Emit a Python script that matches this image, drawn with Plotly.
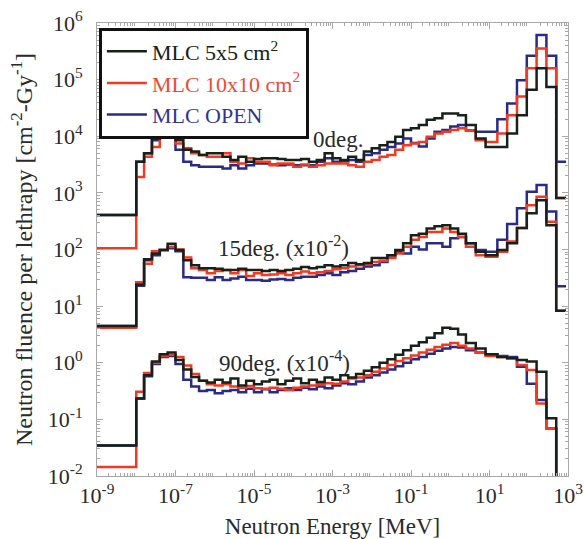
import plotly.graph_objects as go

# ---------------- data ----------------
# bin edges, log10(E / MeV)
bin_edges_log10 = [-9.0, -8.0, -7.8, -7.6, -7.4, -7.2, -7.0, -6.8, -6.6, -6.4, -6.2,
                   -6.0, -5.8, -5.6, -5.4, -5.2, -5.0, -4.8, -4.6, -4.4, -4.2,
                   -4.0, -3.8, -3.6, -3.4, -3.2, -3.0, -2.8, -2.6, -2.4, -2.2,
                   -2.0, -1.8, -1.6, -1.4, -1.2, -1.0, -0.8, -0.6, -0.4, -0.2,
                   0.0, 0.2, 0.4, 0.65, 0.9, 1.2, 1.45, 1.7, 1.95, 2.2, 2.45, 2.7, 2.95]

# fluence per bin, log10 values (None = zero)
mlc5_0deg = [2.61,
             3.55, 3.70, 3.96, 4.10, 4.10, 3.93, 3.76, 3.73, 3.67, 3.70,
             3.70, 3.64, 3.58, 3.64, 3.55, 3.60, 3.61, 3.61, 3.60, 3.58,
             3.58, 3.60, 3.55, 3.58, 3.70, 3.61, 3.58, 3.64, 3.58, 3.73,
             3.79, 3.84, 3.90, 3.99, 4.11, 4.14, 4.20, 4.29, 4.32, 4.40,
             4.40, 4.37,
             4.20, 3.96, 3.81, 3.81, 4.05, 4.37, 4.82, 5.20, 4.87, 2.91]
mlc10_0deg = [2.02,
              3.28, 3.64, 3.81, 4.02, 4.02, 3.87, 3.79, 3.70, 3.67, 3.64,
              3.64, 3.70, 3.55, 3.52, 3.61, 3.55, 3.55, 3.49, 3.52, 3.52,
              3.46, 3.50, 3.46, 3.49, 3.52, 3.52, 3.52, 3.49, 3.46, 3.55,
              3.58, 3.64, 3.67, 3.76, 3.84, 3.87, 3.90, 3.99, 4.05, 4.08,
              4.11, 4.14,
              4.10, 3.93, 3.90, 4.05, 4.37, 4.70, 5.20, 5.55, 5.20, 2.91]
mlcopen_0deg = [2.61,
                3.55, 3.70, 3.93, 4.05, 3.99, 3.76, 3.55, 3.49, 3.46, 3.46,
                3.46, 3.43, 3.49, 3.43, 3.49, 3.52, 3.52, 3.50, 3.49, 3.50,
                3.49, 3.49, 3.49, 3.55, 3.61, 3.55, 3.56, 3.58, 3.55, 3.67,
                3.70, 3.76, 3.81, 3.87, 3.96, 3.88, 3.82, 3.96, 4.08, 4.11,
                4.17, 4.20,
                4.10, 4.08, 4.08, 4.30, 4.58, 4.99, 5.42, 5.79, 5.42, 3.55]

mlc5_15deg = [0.65,
              1.38, 1.83, 1.93, 1.99, 2.10, 1.99, 1.81, 1.72, 1.67, 1.67,
              1.66, 1.64, 1.64, 1.66, 1.64, 1.64, 1.62, 1.64, 1.62, 1.64,
              1.66, 1.69, 1.67, 1.69, 1.72, 1.70, 1.72, 1.76, 1.74, 1.76,
              1.85, 1.85, 1.90, 1.99, 2.11, 2.25, 2.28, 2.37, 2.41, 2.43,
              2.37, 2.28,
              2.11, 1.96, 1.90, 1.99, 2.11, 2.38, 2.64, 2.87, 2.43, 0.92]
mlc10_15deg = [0.62,
               1.42, 1.75, 1.97, 1.99, 2.05, 2.00, 1.86, 1.67, 1.64, 1.58,
               1.62, 1.64, 1.58, 1.64, 1.53, 1.58, 1.55, 1.56, 1.58, 1.55,
               1.58, 1.61, 1.58, 1.60, 1.62, 1.65, 1.67, 1.70, 1.72, 1.74,
               1.78, 1.80, 1.85, 1.93, 2.05, 2.17, 2.22, 2.31, 2.31, 2.37,
               2.31, 2.22,
               2.05, 1.90, 1.87, 1.96, 2.14, 2.38, 2.78, 2.93, 2.49, 0.92]
mlcopen_15deg = [0.65,
                 1.36, 1.81, 1.90, 1.99, 2.02, 1.97, 1.51, 1.50, 1.50, 1.46,
                 1.51, 1.46, 1.49, 1.52, 1.46, 1.46, 1.45, 1.47, 1.48, 1.46,
                 1.50, 1.52, 1.52, 1.55, 1.58, 1.55, 1.60, 1.62, 1.66, 1.70,
                 1.72, 1.78, 1.90, 1.96, 1.93, 2.05, 2.00, 2.11, 2.11, 2.05,
                 2.20, 2.22,
                 2.11, 1.99, 1.96, 2.17, 2.45, 2.73, 3.02, 3.14, 2.67, 1.35]

mlc5_90deg = [-1.46,
              -0.63, -0.22, 0.02, 0.15, 0.18, 0.05, -0.12, -0.25, -0.32, -0.35,
              -0.30, -0.35, -0.28, -0.40, -0.32, -0.38, -0.33, -0.30, -0.38, -0.32,
              -0.28, -0.36, -0.30, -0.34, -0.26, -0.30, -0.22, -0.26, -0.20, -0.14,
              -0.08, 0.00, 0.06, 0.14, 0.22, 0.30, 0.36, 0.44, 0.52, 0.62,
              0.60, 0.50,
              0.35, 0.25, 0.15, 0.10, 0.08, 0.05, 0.02, -0.16, -0.98, None]
mlc10_90deg = [-1.84,
               -0.51, -0.18, 0.00, 0.12, 0.14, 0.10, -0.05, -0.20, -0.32, -0.38,
               -0.40, -0.38, -0.42, -0.44, -0.41, -0.45, -0.46, -0.44, -0.46, -0.48,
               -0.44, -0.42, -0.40, -0.38, -0.36, -0.37, -0.33, -0.28, -0.26, -0.22,
               -0.16, -0.10, -0.04, 0.03, 0.08, 0.13, 0.18, 0.23, 0.28, 0.32,
               0.35, 0.30,
               0.25, 0.18, 0.12, 0.10, 0.08, -0.04, -0.13, -0.72, -1.16, None]
mlcopen_90deg = [-1.46,
                 -0.63, -0.24, -0.02, 0.10, 0.12, -0.02, -0.30, -0.42, -0.50, -0.48,
                 -0.54, -0.50, -0.48, -0.52, -0.46, -0.52, -0.47, -0.52, -0.48, -0.45,
                 -0.48, -0.44, -0.47, -0.42, -0.45, -0.40, -0.36, -0.38, -0.33, -0.26,
                 -0.22, -0.17, -0.12, -0.06, 0.00, 0.06, 0.10, 0.16, 0.21, 0.25,
                 0.28, 0.27,
                 0.22, 0.18, 0.15, 0.12, 0.10, -0.07, -0.37, -0.66, -1.16, None]

series_names = ["MLC 5x5 cm<sup>2</sup>", "MLC 10x10 cm<sup>2</sup>", "MLC OPEN"]
x_tick_exponents = [-9, -7, -5, -3, -1, 1, 3]
x_tick_labels = ["10<sup>-9</sup>", "10<sup>-7</sup>", "10<sup>-5</sup>", "10<sup>-3</sup>",
                 "10<sup>-1</sup>", "10<sup>1</sup>", "10<sup>3</sup>"]
y_tick_exponents = [-2, -1, 0, 1, 2, 3, 4, 5, 6]
y_tick_labels = ["10<sup>-2</sup>", "10<sup>-1</sup>", "10<sup>0</sup>", "10<sup>1</sup>",
                 "10<sup>2</sup>", "10<sup>3</sup>", "10<sup>4</sup>", "10<sup>5</sup>",
                 "10<sup>6</sup>"]
angle_labels = ["0deg.", "15deg. (x10<sup>-2</sup>)", "90deg. (x10<sup>-4</sup>)"]

# ---------------- styling ----------------
SERIF = "Liberation Serif, Times New Roman, serif"
TXT = "#2a2a2a"
COL_BLACK = "#17211a"
COL_RED = "#f23a22"
COL_BLUE = "#2a2a88"
LEG_RED = "#ef4a36"
LEG_BLUE = "#34348f"
AXC = "#a8a8a8"
ZERO_FLOOR = 1e-8   # zero fluence -> drawn below the axis

edges = [10 ** e for e in bin_edges_log10]


def step_y(vals):
    ys = [10 ** v if v is not None else ZERO_FLOOR for v in vals]
    return ys + [ys[-1]]


fig = go.Figure()

groups = [
    (series_names[2], COL_BLUE, LEG_BLUE, [mlcopen_0deg, mlcopen_15deg, mlcopen_90deg], 3),
    (series_names[1], COL_RED, LEG_RED, [mlc10_0deg, mlc10_15deg, mlc10_90deg], 2),
    (series_names[0], COL_BLACK, COL_BLACK, [mlc5_0deg, mlc5_15deg, mlc5_90deg], 1),
]
for name, col, legcol, curves, rank in groups:
    for i, vals in enumerate(curves):
        fig.add_trace(go.Scatter(
            x=edges, y=step_y(vals), mode="lines",
            line=dict(shape="hv", color=col, width=2.5),
            name=f'<span style="color:{legcol}">{name}</span>',
            legendgroup=name, showlegend=(i == 0), legendrank=rank,
        ))

minor_x = [m * 10 ** d for d in range(-9, 3) for m in range(2, 10)]
minor_y = [m * 10 ** d for d in range(-2, 6) for m in range(2, 10)]

axis_common = dict(
    type="log", showgrid=False, zeroline=False, automargin=False,
    showline=True, linecolor=AXC, linewidth=1, mirror="allticks",
    ticks="inside", ticklen=6, tickcolor=AXC,
    tickfont=dict(family=SERIF, size=22, color=TXT),
)
fig.update_xaxes(
    **axis_common, range=[-9, 3],
    tickvals=[10 ** e for e in x_tick_exponents], ticktext=x_tick_labels,
    minor=dict(tickvals=minor_x, ticks="inside", ticklen=3, tickcolor=AXC),
    title=dict(text="Neutron Energy [MeV]", font=dict(family=SERIF, size=23, color=TXT),
               standoff=10),
)
fig.update_yaxes(
    **axis_common, range=[-2, 6],
    tickvals=[10 ** e for e in y_tick_exponents], ticktext=y_tick_labels,
    minor=dict(tickvals=minor_y, ticks="inside", ticklen=3, tickcolor=AXC),
    ticklabelstandoff=9,
    title=dict(text="Neutron fluence per lethrapy [cm<sup>-2</sup>-Gy<sup>-1</sup>]",
               font=dict(family=SERIF, size=24, color=TXT), standoff=8),
)

ann_pos = [(-2.85, 3.95), (-4.24, 2.05), (-4.22, 0.03)]
for (ax_, ay_), txt in zip(ann_pos, angle_labels):
    fig.add_annotation(x=ax_, y=ay_, xref="x", yref="y", text=txt, showarrow=False,
                       font=dict(family=SERIF, size=23, color=TXT))

fig.update_layout(
    width=584, height=539,
    margin=dict(l=97, r=16, t=23, b=63),
    paper_bgcolor="white", plot_bgcolor="white",
    showlegend=True,
    legend=dict(x=0.004, y=0.99, xanchor="left", yanchor="top",
                bgcolor="white", bordercolor="#111111", borderwidth=3,
                font=dict(family=SERIF, size=22, color=COL_BLACK),
                tracegroupgap=0, itemwidth=40),
)

fig.write_html("out.html")
